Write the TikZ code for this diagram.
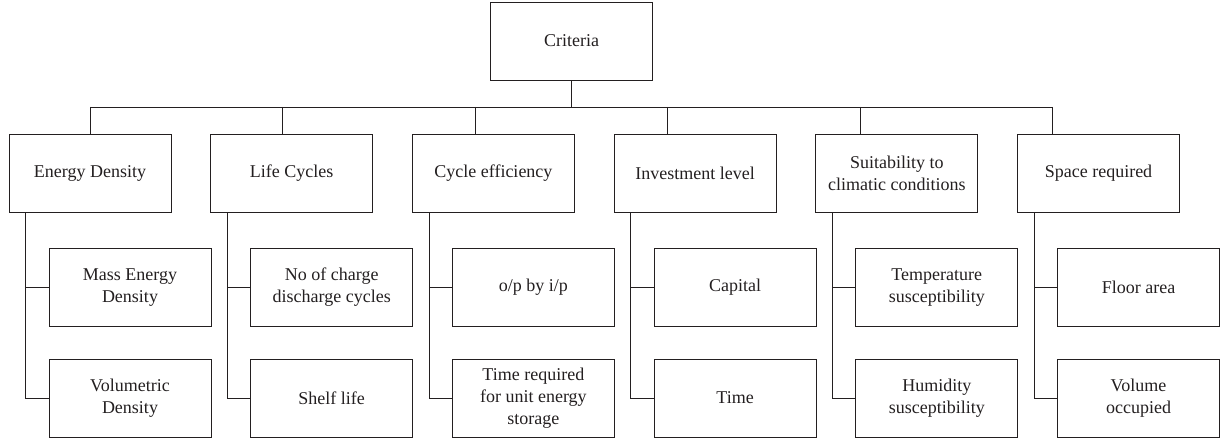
\documentclass[tikz,border=0pt]{standalone}
\usepackage{fontspec}
\setmainfont{Liberation Serif}
\usetikzlibrary{positioning}
\definecolor{ink}{HTML}{231F20}

\begin{document}
\begin{tikzpicture}[x=1pt,y=-1pt,
    box/.style={draw=ink,line width=0.9pt,minimum width=162pt,minimum height=78pt,align=center,inner sep=2pt,text=ink,font=\fontsize{18}{22}\selectfont},
    link/.style={draw=ink,line width=0.9pt}]
    \useasboundingbox (0,0) rectangle (1221,441);
    \node[box] (crit) at (571.5,41) {Criteria};
    \coordinate (bus) at (571.5,107);
    \foreach \n/\t/\a/\b [count=\i] in {
      ed/Energy Density/{Mass Energy\\Density}/{Volumetric\\Density},
      lc/Life Cycles/{No of charge\\discharge cycles}/Shelf life,
      ce/Cycle efficiency/{o/p by i/p}/{Time required\\for unit energy\\storage},
      il/Investment level/Capital/Time,
      sc/{Suitability to\\climatic conditions}/{Temperature\\susceptibility}/{Humidity\\susceptibility},
      sr/Space required/Floor area/{Volume\\occupied}}{
      \pgfmathsetmacro\l{9+201.7*(\i-1)}
      \pgfmathsetmacro\tx{90+192.55*(\i-1)}
      \node[box] (\n) at (\l+81,173) {\t};
      \node[box] (\n1) at (\l+121,287.5) {\a};
      \node[box] (\n2) at (\l+121,398) {\b};
      \coordinate (tap\i) at (\tx,107);
      \draw[link] (tap\i) -- (tap\i |- \n.north);
      \draw[link] ([xshift=17pt]\n.south west) |- (\n2.west);
      \draw[link] (\n1.west) -- ++(-23,0);
    }
    \draw[link] (crit.south) -- (bus);
    \draw[link] (tap1) -- (tap6);
  \end{tikzpicture}
\end{document}
